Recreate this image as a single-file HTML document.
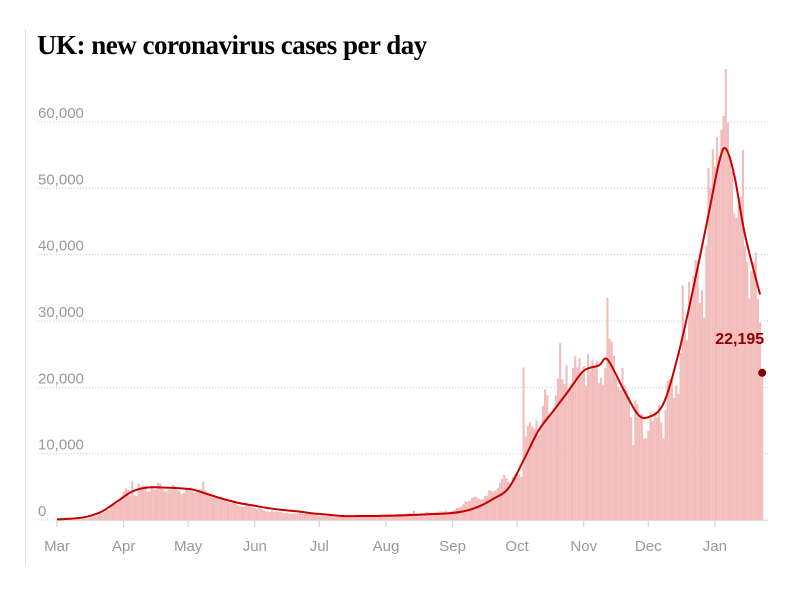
<!DOCTYPE html>
<html><head><meta charset="utf-8">
<style>
body{margin:0;background:#fff;width:800px;height:600px;overflow:hidden;font-family:"Liberation Sans",sans-serif}
#title{position:absolute;left:37px;top:30px;font-family:"Liberation Serif",serif;font-weight:bold;font-size:27px;color:#000;letter-spacing:-0.5px}
#rule{position:absolute;left:25px;top:30px;width:1px;height:535px;background:#ddd}
</style></head><body>
<div id="rule"></div>
<div id="title">UK: new coronavirus cases per day</div>
<svg id="chart" width="800" height="600" style="position:absolute;left:0;top:0"></svg>
<script>
const yTicks=[0,10000,20000,30000,40000,50000,60000];
const yTickLabels=["0","10,000","20,000","30,000","40,000","50,000","60,000"];
const monthLabels=["Mar","Apr","May","Jun","Jul","Aug","Sep","Oct","Nov","Dec","Jan"];
const monthStartDays=[0,31,61,92,122,153,184,214,245,275,306];
const dailyCasesK=[
0,0,0,0,0,0,0,0,0,0,0.1,0.1,0.2,0.2,0.2,0.3,0.4,0.5,0.6,0.7,1,1,1.2,1.5,1.5,2,2.5,2.8,2.5,3,3.5,
4.3,4.8,4.5,3.7,5.9,3.8,3.6,5.5,5,5.2,5.1,4.3,4.3,5.2,4.6,4.6,5.6,5.5,4.7,4.3,4.3,4.6,4.6,5.3,4.9,4.5,4.3,3.9,4.1,4.7,
4.8,5,4.3,4.1,4.4,4.6,4.6,5.8,4.5,4,3.9,3.4,3.4,3.4,3.5,3.5,3.1,3.2,2.7,2.7,2.6,2.6,2.4,2.2,2.1,2,2,2.6,2.3,2.1,1.9,
1.8,1.6,1.8,1.7,1.5,1.3,1.3,1.2,1.4,1.2,1.3,1.2,1.2,1.1,1,1.1,1,0.9,1,1,1,1.2,1,0.9,1,0.9,0.9,0.9,0.8,0.8,
0.6,0.6,0.6,0.6,0.6,0.6,0.6,0.6,0.6,0.6,0.6,0.6,0.6,0.6,0.6,0.6,0.6,0.6,0.6,0.6,0.6,0.7,0.7,0.7,0.7,0.7,0.7,0.7,0.8,0.8,0.8,
0.8,0.8,0.8,0.8,0.8,0.9,0.9,0.9,0.9,0.9,1,1,1,1.4,1,1,1,1,1,1.2,1.1,1.1,1,1.1,1.2,1.3,1.3,1.3,1.4,1.2,1.3,
1.4,1.6,1.8,1.9,2,2.4,2.8,2.8,2.9,3.3,3.5,3.5,3.3,3.1,3.1,3.6,3.7,4.5,4.4,4.3,4.5,4.8,5.6,6.2,6.8,6.3,5.7,5,6.5,6.9,
7,6.9,6.5,23,12.6,14.2,14.7,14.1,13.8,15,12.9,13.9,17.2,19.7,18.8,15.6,16.2,16.9,18.8,21.3,26.7,21.2,20.5,23.3,19.9,20.6,22.9,24.7,23,24.4,21.9,
23.2,20.2,25,22.5,24.2,23.3,24,20.6,21.4,20.4,22.9,33.5,27.3,26.9,24.8,21.4,20.1,19.6,22.9,20.3,19.5,18.6,15.5,11.3,18,17.4,15.9,16,12.3,12.3,
13.4,16.2,14.9,16.3,15.5,17.3,14.7,12.3,16.6,21,21.2,21.5,18.4,20.3,19,25.2,35.4,28.5,27.1,35.9,33.4,36.8,39.2,39.0,32.7,34.6,30.5,41.4,53.1,50.0,55.9,
53.3,57.7,54.9,58.8,60.9,68,59.9,54.9,52.6,46.2,45.5,47.5,48.7,55.8,41.3,38.9,33.4,37.5,38.9,40.3,33.3,29.8,22.195];
const trendDays=[0,7,14,21,28,35,42,49,56,63,70,77,84,91,98,105,112,119,126,133,140,147,154,161,168,175,182,189,196,203,210,217,224,231,238,245,252,256,263,270,275,282,289,296,303,308,311,315,320,327];
const trendK=[0.1,0.2,0.5,1.3,2.8,4.3,4.9,4.9,4.8,4.6,3.9,3.2,2.6,2.2,1.8,1.5,1.3,1.0,0.8,0.6,0.6,0.6,0.65,0.7,0.8,0.9,1.0,1.3,2.0,3.2,4.8,9,13.5,16.5,19.5,22.5,23.3,24.2,20,16,15.5,17.5,25,35,46,54,56,52,43,34];
const lastLabel="22,195";

const svg=document.getElementById('chart');const NS="http://www.w3.org/2000/svg";
const x=d=>57+d*2.15;
const y=v=>520-v*398/60000;
function el(t,a){const e=document.createElementNS(NS,t);for(const k in a)e.setAttribute(k,a[k]);svg.appendChild(e);return e;}
yTicks.forEach((v,i)=>{
 const g=el('line',{x1:38,x2:768,y1:y(v),y2:y(v),stroke:'#ccc','stroke-dasharray':'1,2','stroke-width':1});
 
 
 const t=el('text',{x:38,y:y(v)-4,fill:'#999','font-size':15,'font-family':'Liberation Sans, sans-serif'});
 t.textContent=yTickLabels[i];
 
 
});
dailyCasesK.forEach((v,i)=>{
 const r=el('rect',{x:x(i)-1,y:y(v*1000),width:2.1,height:520-y(v*1000),fill:'#f2bcbb'});
 
 
});
monthLabels.forEach((m,i)=>{
 const tk=el('line',{x1:x(monthStartDays[i]),x2:x(monthStartDays[i]),y1:520,y2:527,stroke:'#ccc'});
 
 
 const t=el('text',{x:x(monthStartDays[i]),y:551,fill:'#999','font-size':15,'text-anchor':'middle','font-family':'Liberation Sans, sans-serif'});
 t.textContent=m;
 
 
});
const ax=el('line',{x1:57,x2:768,y1:520.5,y2:520.5,stroke:'#ddd'});


const pts=trendDays.map((d,i)=>[x(d),y(trendK[i]*1000)]);
let dstr=`M${pts[0][0]},${pts[0][1]}`;
for(let i=0;i<pts.length-1;i++){const p0=pts[Math.max(0,i-1)],p1=pts[i],p2=pts[i+1],p3=pts[Math.min(pts.length-1,i+2)];
 dstr+=` C${p1[0]+(p2[0]-p0[0])/6},${p1[1]+(p2[1]-p0[1])/6} ${p2[0]-(p3[0]-p1[0])/6},${p2[1]-(p3[1]-p1[1])/6} ${p2[0]},${p2[1]}`;}
const ln=el('path',{d:dstr,fill:'none',stroke:'#c70000','stroke-width':2});


const li=dailyCasesK.length-1;
const dot=el('circle',{cx:x(li),cy:y(dailyCasesK[li]*1000),r:4,fill:'#8b0000'});


const lt=el('text',{x:x(li)+2,y:y(dailyCasesK[li]*1000)-29,fill:'#8b0000','font-size':16,'font-weight':'bold','text-anchor':'end','font-family':'Liberation Sans, sans-serif'});
lt.textContent=lastLabel;


</script>
</body></html>
